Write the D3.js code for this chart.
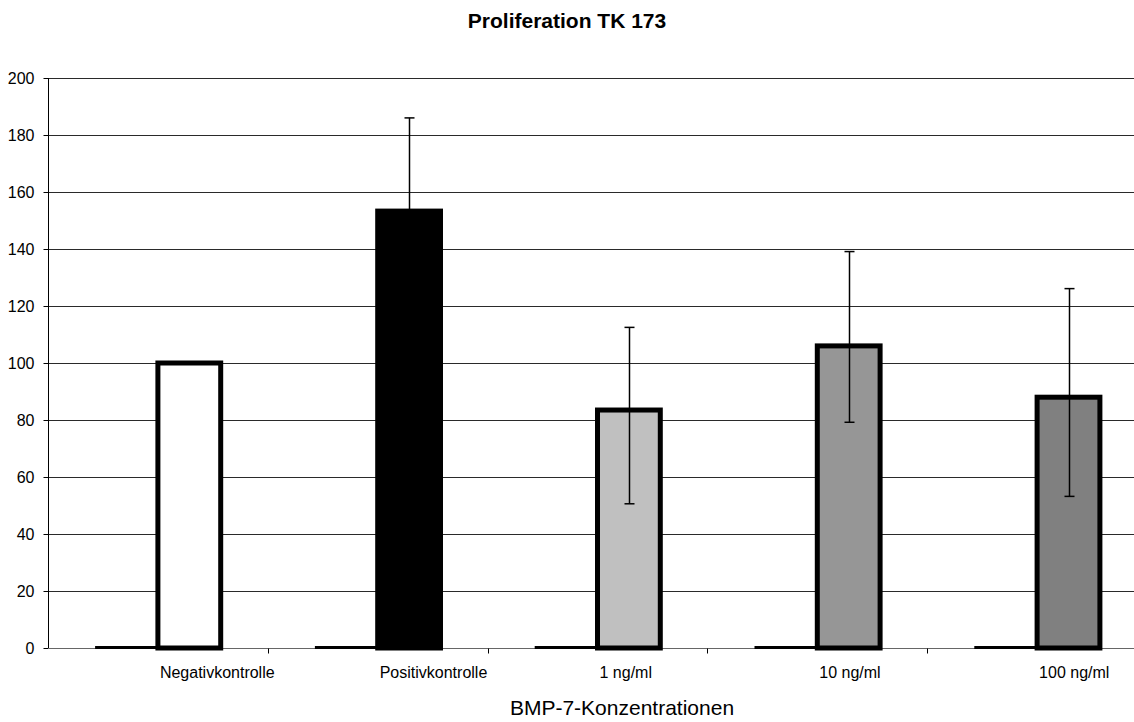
<!DOCTYPE html>
<html>
<head>
<meta charset="utf-8">
<script src="https://cdn.jsdelivr.net/npm/d3@7"></script>
<style>
  html, body { margin: 0; padding: 0; background: #fff; }
  svg { display: block; font-family: "Liberation Sans", Arial, sans-serif; }
</style>
</head>
<body>
<svg id="chart" width="1134" height="722"></svg>
<script>
// Proliferation of TK 173 cells under BMP-7 treatment (relative to negative control = 100)
const categories = ["Negativkontrolle", "Positivkontrolle", "1 ng/ml", "10 ng/ml", "100 ng/ml"];
const baselineSeries = [0, 0, 0, 0, 0];
const meanValues = [100, 153.3, 83.5, 106, 88];
const errorPlus  = [0, 32.7, 29, 33.1, 38.1];
const errorMinus = [0, 32.7, 32.9, 26.8, 34.8];
const barColors = ["#ffffff", "#000000", "#c0c0c0", "#969696", "#808080"];
const yTicks = [0, 20, 40, 60, 80, 100, 120, 140, 160, 180, 200];

const svg = d3.select("#chart");

const x = d3.scaleBand().domain(categories).range([48, 1147]).paddingInner(0).paddingOuter(0);
const y = d3.scaleLinear().domain([0, 200]).range([648, 78]);

// two bars per group, gap width 150 %
const barW = x.bandwidth() / 3.5;
const center = c => x(c) + x.bandwidth() / 2;

// gridlines
svg.append("g")
  .selectAll("line")
  .data(yTicks.filter(t => t > 0))
  .join("line")
  .attr("x1", 48).attr("x2", 1134)
  .attr("y1", d => Math.round(y(d)) + 0.5)
  .attr("y2", d => Math.round(y(d)) + 0.5)
  .attr("stroke", "#2a2a2a")
  .attr("stroke-width", 1);

// y axis
const yAxis = svg.append("g")
  .attr("transform", "translate(48.5,0)")
  .call(d3.axisLeft(y).tickValues(yTicks).tickSize(5).tickPadding(9).tickFormat(d3.format("d")));
yAxis.select(".domain").attr("stroke", "#000").attr("d", `M0,${y(200)}V${y(0)}`);
yAxis.selectAll(".tick line").attr("stroke", "#000");
yAxis.selectAll(".tick text")
  .attr("font-size", 16)
  .attr("fill", "#000")
  .attr("font-family", "Liberation Sans, Arial, sans-serif");

// x axis
const xAxisG = svg.append("g").attr("transform", `translate(0,${Math.round(y(0)) + 0.5})`);
xAxisG.append("line")
  .attr("x1", 48).attr("x2", 1134).attr("y1", 0).attr("y2", 0)
  .attr("stroke", "#666").attr("stroke-width", 1);
xAxisG.selectAll("line.tick")
  .data(categories.slice(1))
  .join("line")
  .attr("class", "tick")
  .attr("x1", d => Math.round(x(d)) + 0.5)
  .attr("x2", d => Math.round(x(d)) + 0.5)
  .attr("y1", 0).attr("y2", 5)
  .attr("stroke", "#000");
xAxisG.selectAll("text")
  .data(categories)
  .join("text")
  .attr("x", d => center(d) + 2)
  .attr("y", 29)
  .attr("font-size", 16)
  .attr("fill", "#000")
  .text(d => d);

// zero-valued first series, drawn as flat bars on the baseline
svg.append("g")
  .selectAll("line")
  .data(categories.map((c, i) => ({ c, v: baselineSeries[i] })))
  .join("line")
  .attr("x1", d => center(d.c) - barW)
  .attr("x2", d => center(d.c))
  .attr("y1", d => y(d.v) - 0.5)
  .attr("y2", d => y(d.v) - 0.5)
  .attr("stroke", "#000")
  .attr("stroke-width", 3);

// main bars
svg.append("g")
  .selectAll("rect")
  .data(categories.map((c, i) => ({ c, v: meanValues[i], fill: barColors[i] })))
  .join("rect")
  .attr("x", d => center(d.c))
  .attr("width", barW)
  .attr("y", d => y(d.v))
  .attr("height", d => y(0) - y(d.v))
  .attr("fill", d => d.fill)
  .attr("stroke", "#000")
  .attr("stroke-width", 5);

// error bars
const errData = categories.map((c, i) => ({
  c, v: meanValues[i], hi: meanValues[i] + errorPlus[i], lo: meanValues[i] - errorMinus[i]
})).filter(d => d.hi !== d.lo);
const eb = svg.append("g").selectAll("g").data(errData).join("g")
  .attr("transform", d => `translate(${Math.round(center(d.c) + barW / 2) + 0.5},0)`);
eb.append("line")
  .attr("y1", d => y(d.hi)).attr("y2", d => y(d.lo))
  .attr("stroke", "#000").attr("stroke-width", 1.5);
eb.append("line")
  .attr("x1", -5).attr("x2", 5)
  .attr("y1", d => y(d.hi)).attr("y2", d => y(d.hi))
  .attr("stroke", "#000").attr("stroke-width", 1.5);
eb.append("line")
  .attr("x1", -5).attr("x2", 5)
  .attr("y1", d => y(d.lo)).attr("y2", d => y(d.lo))
  .attr("stroke", "#000").attr("stroke-width", 1.5);

// titles
svg.append("text")
  .attr("x", 567).attr("y", 28)
  .attr("text-anchor", "middle")
  .attr("font-size", 21)
  .attr("font-weight", "bold")
  .text("Proliferation TK 173");

svg.append("text")
  .attr("x", 622).attr("y", 715)
  .attr("text-anchor", "middle")
  .attr("font-size", 21)
  .text("BMP-7-Konzentrationen");
</script>
</body>
</html>
